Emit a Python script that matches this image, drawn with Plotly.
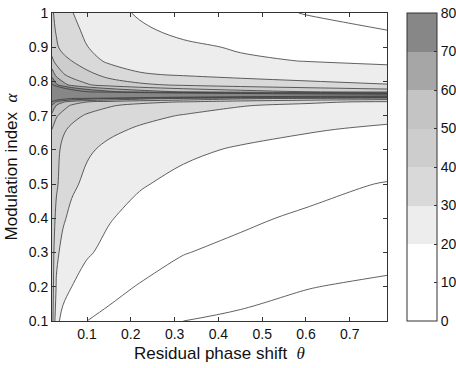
import plotly.graph_objects as go

# Residual phase shift theta (columns) and modulation index alpha (rows)
theta = [0.02, 0.03, 0.045, 0.065, 0.1, 0.15, 0.22, 0.32, 0.45, 0.6, 0.785]
alpha = [0.1, 0.2, 0.3, 0.4, 0.5, 0.6, 0.66, 0.7, 0.73, 0.74, 0.75,
         0.76, 0.77, 0.79, 0.82, 0.86, 0.9, 0.95, 1.0]

# Values (one list per alpha row, along theta)
z_a010 = [45, 22.5, 17, 13.5, 10, 8.1, 6.4, 5.0, 4.4, 4.0, 3.7]
z_a020 = [45.5, 29, 23.5, 20, 16, 12.3, 9.5, 7.6, 6.2, 5.1, 4.5]
z_a030 = [46, 32, 27, 24, 21, 17.6, 14, 10.2, 8.6, 7.2, 6.0]
z_a040 = [46, 37.5, 31.3, 27.5, 24, 20.6, 17, 14, 11.0, 9.1, 7.8]
z_a050 = [46, 41.5, 35.5, 31.8, 27.8, 24.2, 20.8, 17.5, 14.5, 12.0, 9.6]
z_a060 = [47, 43, 37.5, 34.2, 31.2, 28, 25, 21.8, 19, 17, 15.1]
z_a066 = [50, 45, 41.5, 38, 34.5, 31.8, 29, 26, 23.3, 20.8, 18.6]
z_a070 = [57, 51, 46.5, 43, 38.8, 35.5, 32.3, 29.5, 26.8, 24.5, 22.4]
z_a073 = [70, 60, 54, 49, 45, 41, 37.5, 34, 30.5, 28.3, 26.5]
z_a074 = [78, 68, 61, 55, 50, 46, 42.5, 39.5, 35, 31.5, 28.5]
z_a075 = [95, 90, 85, 80, 75, 70, 64, 58, 52, 48, 45]
z_a076 = [300, 260, 220, 190, 160, 140, 125, 112, 104, 97, 92]
z_a077 = [130, 115, 100, 90, 80, 72, 65, 59, 54, 50, 46]
z_a079 = [82, 72, 64, 57, 51, 46, 42, 38.5, 35.5, 33, 30.5]
z_a082 = [66, 57, 51, 46.5, 43, 36.5, 31, 29, 27, 25.3, 23.8]
z_a086 = [52, 47, 43.5, 40, 34, 28.3, 25.5, 23, 21.2, 19.8, 18.5]
z_a090 = [46, 41.5, 37, 34, 30.2, 27, 24.3, 21.6, 19.2, 16.8, 14.6]
z_a095 = [42.7, 39.1, 35.5, 32.2, 28.3, 24.7, 21.3, 18.0, 15.0, 12.4, 10.0]
z_a100 = [41.3, 37.5, 33.8, 30.4, 26.4, 22.6, 19.1, 15.6, 12.4, 9.7, 7.2]

z_rows = [z_a010, z_a020, z_a030, z_a040, z_a050, z_a060, z_a066, z_a070,
          z_a073, z_a074, z_a075, z_a076, z_a077, z_a079, z_a082, z_a086,
          z_a090, z_a095, z_a100]

x_ticks = [0.1, 0.2, 0.3, 0.4, 0.5, 0.6, 0.7]
x_ticktext = ["0.1", "0.2", "0.3", "0.4", "0.5", "0.6", "0.7"]
y_ticks = [0.1, 0.2, 0.3, 0.4, 0.5, 0.6, 0.7, 0.8, 0.9, 1.0]
y_ticktext = ["0.1", "0.2", "0.3", "0.4", "0.5", "0.6", "0.7", "0.8", "0.9", "1"]
cb_ticks = [0, 10, 20, 30, 40, 50, 60, 70, 80]
extra_level = 5

band_colors = ["#ffffff", "#ffffff", "#ededed", "#d9d9d9",
               "#cdcdcd", "#c4c4c4", "#a6a6a6", "#878787"]
colorscale = []
for i, c in enumerate(band_colors):
    colorscale.append([i / len(band_colors), c])
    colorscale.append([(i + 1) / len(band_colors), c])

FONT = "Liberation Sans, Arial, sans-serif"
LINE = "#3a3a3a"

fig = go.Figure()
# filled bands (no lines, so the colour bar shows plain bands)
fig.add_trace(go.Contour(
    x=theta, y=alpha, z=z_rows,
    zmin=0, zmax=80, zauto=False,
    colorscale=colorscale,
    autocontour=False,
    contours=dict(start=0, end=80, size=10, coloring="fill", showlines=False),
    line=dict(width=0, smoothing=1),
    hoverinfo="skip",
    colorbar=dict(
        thickness=30, thicknessmode="pixels",
        len=1.0, lenmode="fraction",
        x=(407 - 52) / 335, xanchor="left", xpad=0,
        y=0.5, yanchor="middle", ypad=0,
        outlinecolor="#333333", outlinewidth=1,
        tickvals=cb_ticks, ticks="inside", ticklen=3, tickcolor="#333333",
        tickfont=dict(family=FONT, size=14, color="#111111"),
    ),
))
# contour lines 10 ... 80
fig.add_trace(go.Contour(
    x=theta, y=alpha, z=z_rows,
    autocontour=False,
    contours=dict(start=10, end=80, size=10, coloring="none"),
    line=dict(color=LINE, width=0.8, smoothing=1),
    showscale=False, hoverinfo="skip",
))
# extra low level line
fig.add_trace(go.Contour(
    x=theta, y=alpha, z=z_rows,
    autocontour=False,
    contours=dict(start=extra_level, end=extra_level, size=10, coloring="none"),
    line=dict(color=LINE, width=0.8, smoothing=1),
    showscale=False, hoverinfo="skip",
))

axis_common = dict(
    showline=True, linecolor="#333333", linewidth=1, mirror="ticks",
    ticks="inside", ticklen=4, tickcolor="#333333",
    showgrid=False, zeroline=False,
    tickfont=dict(family=FONT, size=14, color="#111111"),
)

fig.update_xaxes(
    range=[theta[0], theta[-1]], tickvals=x_ticks, ticktext=x_ticktext,
    title=dict(text="Residual phase shift  <i><span style='font-family:Liberation Serif'>θ</span></i>",
               font=dict(family=FONT, size=17, color="#111111"), standoff=6),
    **axis_common,
)
fig.update_yaxes(
    range=[alpha[0], alpha[-1]], tickvals=y_ticks, ticktext=y_ticktext,
    title=dict(text="Modulation index  <i><span style='font-family:Liberation Serif'>α</span></i>",
               font=dict(family=FONT, size=17, color="#111111"), standoff=6),
    **axis_common,
)

fig.update_layout(
    width=456, height=368,
    margin=dict(l=52, r=69, t=13, b=47, autoexpand=False),
    paper_bgcolor="white", plot_bgcolor="white",
    showlegend=False,
    font=dict(family=FONT, color="#111111"),
)

fig.write_html("out.html",
               config={"displayModeBar": False},
               post_script="document.body.style.margin='0';document.body.style.overflow='hidden';")
